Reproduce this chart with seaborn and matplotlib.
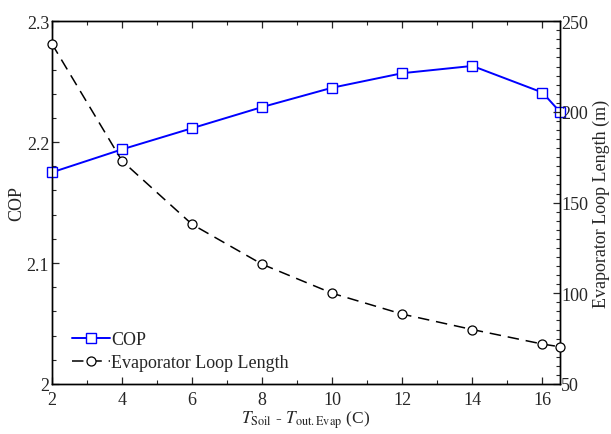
import matplotlib
matplotlib.use("Agg")
import matplotlib.pyplot as plt
import seaborn as sns
import pandas as pd
from matplotlib.ticker import MultipleLocator

# Data
x_vals = [2, 4, 6, 8, 10, 12, 14, 16, 16.5]
cop_vals = [2.175, 2.194, 2.2115, 2.229, 2.245, 2.257, 2.263, 2.241, 2.225]
loop_vals = [237.5, 173, 138, 116, 100, 88.5, 80, 72, 70.5]
x_ticks = [2, 4, 6, 8, 10, 12, 14, 16]
cop_ticks = [2.0, 2.1, 2.2, 2.3]
cop_tick_labels = ["2", "2.1", "2.2", "2.3"]
loop_ticks = [50, 100, 150, 200, 250]

df = pd.DataFrame({"x": x_vals, "COP": cop_vals, "Loop": loop_vals})

sns.set_style("ticks")
plt.rcParams["font.family"] = ["Liberation Serif", "DejaVu Serif"]
plt.rcParams["mathtext.fontset"] = "stix"
plt.rcParams["xtick.direction"] = "in"
plt.rcParams["ytick.direction"] = "in"

fig = plt.figure(figsize=(6.11, 4.35), dpi=100)
ax = fig.add_axes([0.085, 0.115, 0.8315, 0.834])
ax2 = ax.twinx()

sns.lineplot(data=df, x="x", y="COP", ax=ax, color="#0000FF", lw=1.4,
             marker="s", markersize=6.5, markerfacecolor="white",
             markeredgecolor="#0000FF", markeredgewidth=1.0,
             label="COP", legend=False, clip_on=False, zorder=3)
sns.lineplot(data=df, x="x", y="Loop", ax=ax2, color="black", lw=1.1,
             marker="o", markersize=6.5, markerfacecolor="white",
             markeredgecolor="black", markeredgewidth=0.9,
             dashes=False, label="Evaporator Loop Length", legend=False,
             clip_on=False, zorder=3)
ax2.lines[0].set_dashes([7.5, 4.5])

ax.set_xlim(2, 16.5)
ax.set_ylim(2.0, 2.3)
ax2.set_ylim(50, 250)

ax.set_xticks(x_ticks)
ax.set_xticklabels([str(t) for t in x_ticks])
ax.xaxis.set_minor_locator(MultipleLocator(1))
ax.set_yticks(cop_ticks)
ax.set_yticklabels(cop_tick_labels)
ax.yaxis.set_minor_locator(MultipleLocator(0.02))
ax2.set_yticks(loop_ticks)
ax2.set_yticklabels([str(t) for t in loop_ticks])
ax2.yaxis.set_minor_locator(MultipleLocator(5))

ax.tick_params(axis="x", which="both", top=True, bottom=True, direction="in",
               labelsize=13, pad=5)
ax.tick_params(axis="y", which="both", left=True, right=False, direction="in",
               labelsize=13, pad=2)
ax.tick_params(which="major", length=5, width=0.9)
ax.tick_params(which="minor", length=3, width=0.8)
ax2.tick_params(axis="y", which="both", right=True, left=False, direction="in",
                labelsize=13, pad=1)
ax2.tick_params(which="major", length=5, width=0.9)
ax2.tick_params(which="minor", length=3, width=0.8)
ax2.tick_params(axis="x", which="both", top=False, bottom=False)

for a in (ax, ax2):
    for s in a.spines.values():
        s.set_linewidth(1.0)
        s.set_color("black")
        s.set_visible(True)

ax.set_xlabel(r"$T_{\mathrm{Soil}}$ - $T_{\mathrm{out.Evap}}$ (C)", fontsize=12.5, labelpad=0)
ax.set_ylabel("COP", fontsize=13, labelpad=1)
ax2.set_ylabel("Evaporator Loop Length (m)", fontsize=13, labelpad=3)

h1, l1 = ax.get_legend_handles_labels()
h2, l2 = ax2.get_legend_handles_labels()
ax2.legend(h1 + h2, l1 + l2, loc="lower left", bbox_to_anchor=(0.04, 0.035),
           frameon=False, fontsize=13, handlelength=2.1, handletextpad=0.05,
           borderpad=0, borderaxespad=0, labelspacing=0.35)

fig.savefig("out.png", dpi=100)
